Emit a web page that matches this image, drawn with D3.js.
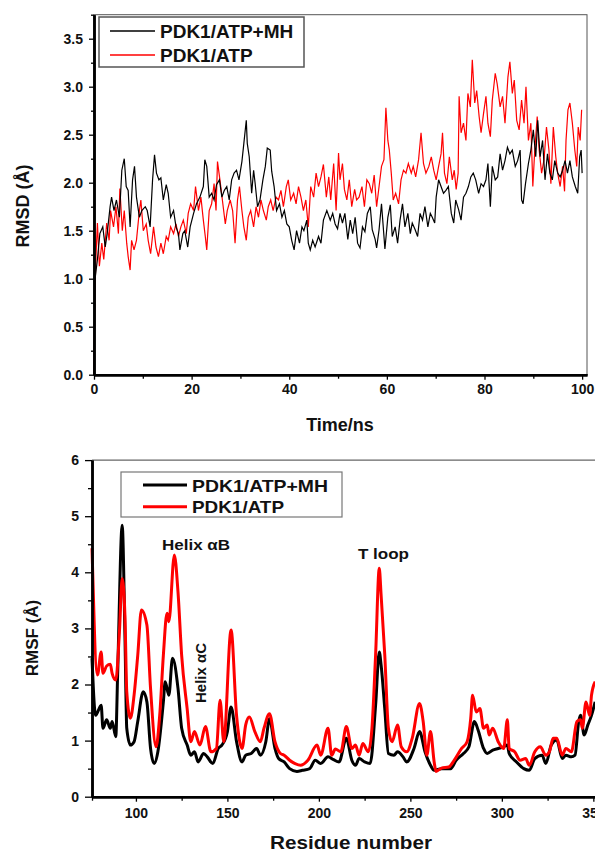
<!DOCTYPE html>
<html>
<head>
<meta charset="utf-8">
<script src="https://cdn.jsdelivr.net/npm/d3@7/dist/d3.min.js"></script>
<style>
  body { margin: 0; background: #fff; }
  text { font-family: Arial, "Liberation Sans", sans-serif; font-weight: bold; fill: #111; }
</style>
</head>
<body>
<svg id="chart" width="595" height="852"></svg>
<script>
// ---------- RMSD (top panel) ----------
const rmsdTimeMH = [0,0.2,0.7,1.2,1.8,2.3,2.7,3.3,3.6,4.1, 4.6,5.2,5.7,6.2,6.6,7.0,7.4,7.9,8.3,8.7,
  9.3,9.8,10.5,10.9,11.5,12.0,12.4,12.8,13.3,13.7, 14.2,14.8,15.2,15.7,16.3,16.8,17.3,17.6,18.2,18.6,
  19.2,19.7,20.4,21.0,21.7,22.4,22.7,23.1,23.6,24.1, 24.6,25.1,25.7,26.2,26.7,27.2,27.7,28.2,28.7,29.2,
  29.7,30.3,30.7,31.2,31.4,31.8,32.3,32.7,33.0,33.5, 34.0,34.6,35.1,35.5,36.1,36.4,36.9,37.4,38.0,38.5,
  39.0,39.5,40.0,40.5,41.0,41.5,42.1,42.6,43.0,43.6, 43.9,44.3,44.8,45.3,46.0,46.5,47.0,47.7,48.4,48.9,
  49.4,49.9,50.4,50.9,51.4,52.0,52.5,53.0,53.5,54.0, 54.5,55.0,55.5,56.0,56.6,57.0,57.6,57.9,58.4,58.9,
  59.6,60.2,60.7,61.1,61.7,62.2,62.7,63.2,63.7,64.3, 64.8,65.2,65.8,66.3,66.8,67.3,67.8,68.4,68.9,69.3,
  69.8,70.1,70.6,71.1,71.6,72.1,72.6,73.2,73.7,74.1, 74.7,75.2,75.7,76.2,76.7,77.2,77.7,78.2,78.8,79.3,
  79.8,80.3,80.7,81.2,81.6,82.2,82.7,83.2,83.7,84.2, 84.7,85.2,85.7,86.3,86.8,87.3,87.6,87.9,88.4,89.0,
  89.5,90.0,90.5,90.9,91.4,91.9,92.4,92.9,93.4,93.9, 94.4,95.0,95.5,96.0,96.5,97.0,97.5,98.0,98.6,99.1,
  99.5,99.8,100.0]
const rmsdMH = [0,0.99,1.2,1.47,1.54,1.33,1.47,1.75,1.85,1.71, 1.82,1.64,2.13,2.25,1.96,1.92,1.54,2.03,2.17,1.85,
  1.64,1.71,1.75,1.71,1.54,2.03,2.29,2.1,2.03,2.05, 1.82,1.98,1.89,1.64,1.71,1.54,1.47,1.3,1.47,1.5,
  1.33,1.54,1.68,1.78,1.85,1.96,2.24,2.17,1.85,1.89, 1.82,1.98,2.03,1.85,1.92,1.96,1.82,2.03,2.1,2.13,
  2.03,2.22,2.41,2.65,2.41,2.27,1.89,2.13,2.0,1.75, 1.82,2.03,2.17,2.36,2.34,2.12,1.96,1.71,1.78,1.64,
  1.71,1.57,1.54,1.4,1.3,1.5,1.37,1.54,1.5,1.61, 1.37,1.3,1.4,1.33,1.44,1.37,1.61,1.71,1.61,1.68,
  1.57,1.52,1.68,1.58,1.68,1.41,1.61,1.47,1.64,1.37, 1.32,1.54,1.49,1.68,1.75,1.51,1.41,1.32,1.51,1.78,
  1.31,1.64,1.77,1.44,1.54,1.37,1.61,1.78,1.54,1.68, 1.47,1.58,1.51,1.44,1.68,1.61,1.75,1.54,1.68,1.64,
  1.58,1.85,2.03,1.96,1.89,1.92,1.96,1.68,1.58,1.82, 1.72,1.61,1.85,1.89,1.96,2.06,2.1,2.03,1.89,1.99,
  1.96,2.03,2.2,1.75,2.17,2.03,2.06,2.3,2.13,2.23, 2.37,2.3,2.34,2.17,2.23,2.34,1.82,1.78,1.99,2.2,
  2.34,2.55,2.27,2.65,2.27,2.44,2.03,2.3,2.1,2.03, 2.23,2.1,2.06,2.13,2.23,2.1,2.23,2.06,1.96,1.89,
  2.27,2.34,2.1]

const rmsdTimeATP = [0,0.15,0.4,0.7,1.1,1.6,2.0,2.6,3.1,3.4, 4.0,4.5,5.0,5.3,5.8,6.2,6.7,7.0,7.4,7.7,
  8.2,8.7,9.3,9.6,10.1,10.7,11.1,11.6,12.2,12.7, 13.2,13.7,14.2,14.8,15.2,15.7,16.3,16.8,17.3,17.8,
  18.3,18.9,19.3,19.8,20.4,20.8,21.4,21.9,22.4,22.8, 23.1,23.6,24.1,24.6,25.0,25.3,25.8,26.3,26.9,27.3,
  27.9,28.4,28.9,29.4,29.8,30.3,30.7,31.2,31.6,32.1, 32.7,33.2,33.7,34.2,34.7,35.3,35.7,36.2,36.7,37.3,
  37.8,38.3,38.8,39.4,39.8,40.3,40.9,41.4,41.9,42.4, 42.9,43.4,43.9,44.4,45.0,45.5,46.0,46.5,47.0,47.6,
  48.1,48.5,49.1,49.6,50.1,50.4,50.9,51.3,51.8,52.3, 52.8,53.4,53.8,54.3,54.9,55.4,55.9,56.4,56.9,57.4,
  57.9,58.4,58.9,59.4,59.8,60.2,60.5,60.9,61.3,61.8, 62.4,62.9,63.4,63.9,64.4,65.0,65.4,65.9,66.5,67.0,
  67.5,68.0,68.6,69.1,69.6,70.1,70.6,71.1,71.4,71.8, 72.3,72.8,73.4,73.8,74.2,74.6,74.8,75.2,75.7,76.2,
  76.6,77.1,77.5,78.0,78.4,78.9,79.3,79.8,80.3,80.7, 81.2,81.6,82.2,82.6,83.2,83.7,84.2,84.8,85.2,85.7,
  86.1,86.6,87.1,87.6,88.1,88.5,89.0,89.5,89.9,90.3, 90.8,91.2,91.7,92.2,92.7,93.2,93.6,94.1,94.6,95.0,
  95.5,96.0,96.4,96.7,97.1,97.5,98.0,98.5,98.9,99.2, 99.6,99.9]
const rmsdATP = [0,0.8,1.23,1.58,1.13,1.37,1.2,1.58,1.4,1.71, 1.54,1.75,1.47,1.94,1.5,1.71,1.37,1.23,1.09,1.4,
  1.3,1.4,1.71,1.82,1.5,1.57,1.4,1.26,1.54,1.33, 1.23,1.37,1.26,1.44,1.4,1.54,1.47,1.57,1.44,1.54,
  1.61,1.47,1.68,1.78,1.71,1.96,1.71,1.85,1.61,1.44, 1.3,1.71,1.78,1.99,1.71,2.22,2.03,1.82,1.57,1.71,
  1.82,1.71,1.37,1.82,1.96,1.71,1.54,1.4,1.64,1.71, 1.54,1.75,1.64,1.82,1.71,1.61,1.75,1.82,1.71,1.85,
  1.82,1.92,1.75,1.96,2.03,1.82,1.89,1.78,1.96,1.85, 1.71,1.82,1.54,1.96,1.85,2.1,1.96,2.06,2.19,1.85,
  2.06,1.82,2.2,1.71,2.31,2.03,2.2,1.93,1.82,2.03, 1.75,1.93,1.82,1.85,1.96,1.75,2.03,1.99,1.89,2.08,
  1.75,1.96,2.17,2.24,2.78,2.44,2.34,2.1,1.82,1.89, 1.78,2.03,2.13,2.1,2.2,2.1,2.17,2.06,2.24,2.52,
  2.2,2.1,2.17,2.27,2.13,2.03,2.17,2.3,2.52,2.1, 1.99,2.27,2.03,2.13,1.93,2.1,2.9,2.52,2.62,2.44,
  2.93,2.79,3.28,2.83,2.96,2.69,2.52,2.72,2.9,2.62, 2.48,2.86,3.14,3.03,2.79,2.9,2.62,3.1,3.26,2.93,
  3.07,2.65,2.55,2.86,2.62,3.0,2.44,2.62,1.96,2.34, 2.69,2.34,2.1,2.24,2.58,2.34,1.99,2.58,2.27,2.1,
  1.96,2.17,1.91,2.44,2.76,2.83,2.62,2.34,2.17,2.58, 2.44,2.76]

// ---------- RMSF (bottom panel) ----------
const rmsfResMH = [76,78,81,82,84,86,87,89,90,92.5, 94,95,97,99,101,104,106,108,110,112,
  115,116,118,120,123,125,128,130,132,134, 137,139,142,145,147,150,152,155,158,160,
  163,166,168,171,173,176,178,181,184,188, 191,195,198,201,205,208,211,215,218,220,
  222,225,228,231,233,234,236,238,241,243, 246,248,252,255,258,261,263,267,272,275,
  279,282,285,287,290,292,295,298,301,303, 304,308,312,315,318,322,324,327,330,333,
  335,338,340,342,343,345,347,349,351]
const rmsfMH = [2.47,1.45,1.63,1.22,1.37,1.22,1.34,1.07,2.17,4.84, 2.88,1.22,0.92,0.98,1.34,1.87,1.69,0.86,0.59,0.8,
  1.69,2.05,1.81,2.47,1.93,1.22,0.92,0.74,0.8,0.62, 0.77,0.71,0.59,0.86,0.92,1.16,1.6,0.98,0.62,0.74,
  0.77,0.86,0.74,0.98,1.39,0.86,0.68,0.62,0.5,0.45, 0.47,0.5,0.65,0.59,0.71,0.66,0.62,1.04,0.65,0.56,
  0.68,0.62,0.59,1.63,2.58,2.35,1.57,0.77,0.74,0.8, 0.71,0.62,0.86,1.16,0.8,0.56,0.47,0.5,0.5,0.65,
  0.77,0.89,1.34,1.19,0.86,0.77,0.83,0.86,0.89,0.92, 0.77,0.62,0.5,0.47,0.68,0.74,0.59,0.92,1.01,0.68,
  0.74,0.71,0.74,1.34,1.45,1.1,1.28,1.45,1.69]

const rmsfResATP = [76,79,81,82,84,86,87,89,91,92.5, 94,95,97,99,101,103,106,108,111,113,
  115,117,118,121,123,125,128,130,132,135, 138,141,144,146,148,152,155,158,160,162,
  165,168,170,173,176,179,181,184,187,190, 194,199,201,205,207,209,212,215,218,220,
  222,224,227,229,231,233,234,236,238,240, 243,245,248,251,255,257,259,261,263,264,
  267,271,274,278,281,283,284,286,288,290, 292,293,295,298,301,303,304,307,310,313,
  315,318,321,324,326,328,330,333,335,338, 341,343,344,346,348,349,351]
const rmsfATP = [4.43,2.17,2.58,2.2,2.33,2.36,2.2,2.08,2.94,3.89, 3.23,1.87,1.4,1.81,2.52,3.33,3.06,1.93,0.89,1.45,
  2.52,3.27,3.12,4.31,3.65,2.52,1.57,0.98,1.16,0.92, 1.25,0.8,0.86,1.72,0.98,2.97,1.45,0.86,1.28,1.42,
  1.16,0.98,1.22,1.48,0.98,0.77,0.74,0.65,0.59,0.56, 0.65,0.92,0.74,1.22,0.74,0.85,0.8,1.25,0.86,0.92,
  0.74,0.95,0.8,1.22,2.53,4.07,3.6,2.53,1.22,0.98, 1.28,0.89,0.8,1.04,1.66,1.34,0.74,1.16,0.62,0.45,
  0.51,0.53,0.65,0.86,0.98,1.4,1.81,1.51,1.57,1.22, 1.28,1.1,1.22,0.98,0.86,1.37,0.86,0.8,0.65,0.68,
  0.56,0.8,0.89,0.74,0.8,1.04,1.04,0.74,0.86,0.8, 1.34,1.37,1.22,1.69,1.45,1.81,2.05]

const seriesNames = ["PDK1/ATP+MH", "PDK1/ATP"]
const seriesColors = ["#000000", "#ff0000"]

const svg = d3.select("#chart")

// ================= top chart : RMSD =================
const x1 = d3.scaleLinear().domain([0, 101]).range([94, 587])
const y1 = d3.scaleLinear().domain([0, 3.75]).range([374.7, 14.7])

// thin frame
svg.append("rect")
    .attr("x", x1(0)).attr("y", y1(3.75))
    .attr("width", x1(101) - x1(0)).attr("height", y1(0) - y1(3.75))
    .attr("fill", "none").attr("stroke", "#555").attr("stroke-width", 1)

const line1 = d3.line().x(d => x1(d[0])).y(d => y1(d[1]))

svg.append("path")
    .datum(d3.zip(rmsdTimeATP, rmsdATP))
    .attr("d", line1)
    .attr("fill", "none").attr("stroke", seriesColors[1]).attr("stroke-width", 1.2)

svg.append("path")
    .datum(d3.zip(rmsdTimeMH, rmsdMH))
    .attr("d", line1)
    .attr("fill", "none").attr("stroke", seriesColors[0]).attr("stroke-width", 1.2)

// axes (major + minor ticks)
svg.append("g").attr("transform", `translate(0,${y1(0)})`)
    .call(d3.axisBottom(x1).tickValues([0,20,40,60,80,100]).tickSize(5).tickSizeOuter(0).tickPadding(4))
svg.append("g").attr("transform", `translate(0,${y1(0)})`)
    .call(d3.axisBottom(x1).tickValues([10,30,50,70,90]).tickSize(4).tickSizeOuter(0).tickFormat(""))

svg.append("g").attr("transform", `translate(${x1(0)},0)`)
    .call(d3.axisLeft(y1).tickValues(d3.range(0, 3.6, 0.5)).tickSize(5).tickSizeOuter(0)
        .tickPadding(6).tickFormat(d3.format(".1f")))
svg.append("g").attr("transform", `translate(${x1(0)},0)`)
    .call(d3.axisLeft(y1).tickValues(d3.range(0.25, 3.8, 0.5)).tickSize(3).tickSizeOuter(0).tickFormat(""))

svg.append("text")
    .attr("x", 340).attr("y", 431)
    .attr("text-anchor", "middle").style("font-size", "18px")
    .text("Time/ns")

svg.append("text")
    .attr("transform", "translate(28.5,206) rotate(-90)")
    .attr("text-anchor", "middle").style("font-size", "18px")
    .text("RMSD (Å)")

// legend
const leg1 = svg.append("g")
leg1.append("rect").attr("x", 99).attr("y", 17).attr("width", 205).attr("height", 50)
    .attr("fill", "#fff").attr("stroke", "#555").attr("stroke-width", 1.5)
seriesNames.forEach((name, i) => {
    const yy = 31 + i * 24
    leg1.append("line").attr("x1", 110).attr("x2", 155).attr("y1", yy).attr("y2", yy)
        .attr("stroke", seriesColors[i]).attr("stroke-width", 1.3)
    leg1.append("text").attr("x", 160).attr("y", yy + 7.3)
        .style("font-size", "19px").text(name)
})

// ================= bottom chart : RMSF =================
const x2 = d3.scaleLinear().domain([76, 352]).range([92, 597])
const y2 = d3.scaleLinear().domain([0, 6]).range([796.7, 460.1])

svg.append("line")
    .attr("x1", x2(76)).attr("x2", 595).attr("y1", y2(6)).attr("y2", y2(6))
    .attr("stroke", "#666").attr("stroke-width", 1.2)

const line2 = d3.line().x(d => x2(d[0])).y(d => y2(d[1])).curve(d3.curveMonotoneX)

svg.append("path")
    .datum(d3.zip(rmsfResMH, rmsfMH))
    .attr("d", line2)
    .attr("fill", "none").attr("stroke", seriesColors[0]).attr("stroke-width", 3)

svg.append("path")
    .datum(d3.zip(rmsfResATP, rmsfATP))
    .attr("d", line2)
    .attr("fill", "none").attr("stroke", seriesColors[1]).attr("stroke-width", 3)

svg.append("g").attr("transform", `translate(0,${y2(0)})`)
    .call(d3.axisBottom(x2).tickValues([100,150,200,250,300,350]).tickSize(5).tickSizeOuter(0).tickPadding(6))
svg.append("g").attr("transform", `translate(0,${y2(0)})`)
    .call(d3.axisBottom(x2).tickValues([76,125,175,225,275,325]).tickSize(4).tickSizeOuter(0).tickFormat(""))

svg.append("g").attr("transform", `translate(${x2(76)},0)`)
    .call(d3.axisLeft(y2).tickValues(d3.range(0, 7, 1)).tickSize(7).tickSizeOuter(0)
        .tickPadding(6).tickFormat(d3.format("d")))
svg.append("g").attr("transform", `translate(${x2(76)},0)`)
    .call(d3.axisLeft(y2).tickValues(d3.range(0.5, 6, 1)).tickSize(4).tickSizeOuter(0).tickFormat(""))

svg.append("text")
    .attr("x", 351).attr("y", 849)
    .attr("text-anchor", "middle").style("font-size", "18px")
    .attr("textLength", 162).attr("lengthAdjust", "spacingAndGlyphs")
    .text("Residue number")

svg.append("text")
    .attr("transform", "translate(38,638) rotate(-90)")
    .attr("text-anchor", "middle").style("font-size", "17px")
    .text("RMSF (Å)")

// annotations
svg.append("text").attr("x", 162).attr("y", 550).style("font-size", "15px")
    .attr("textLength", 68).attr("lengthAdjust", "spacingAndGlyphs").text("Helix αB")
svg.append("text").attr("x", 358).attr("y", 559).style("font-size", "15px")
    .attr("textLength", 51).attr("lengthAdjust", "spacingAndGlyphs").text("T loop")
svg.append("text")
    .attr("transform", "translate(206,673) rotate(-90)")
    .attr("text-anchor", "middle").style("font-size", "15px")
    .text("Helix αC")

// legend
const leg2 = svg.append("g")
leg2.append("rect").attr("x", 121).attr("y", 472).attr("width", 221).attr("height", 45)
    .attr("fill", "#fff").attr("stroke", "#777").attr("stroke-width", 1.2)
seriesNames.forEach((name, i) => {
    const yy = 485 + i * 21.7
    leg2.append("line").attr("x1", 143).attr("x2", 187).attr("y1", yy).attr("y2", yy)
        .attr("stroke", seriesColors[i]).attr("stroke-width", 3)
    leg2.append("text").attr("x", 192).attr("y", yy + 6.7)
        .style("font-size", "17px")
        .attr("textLength", i === 0 ? 136 : 92).attr("lengthAdjust", "spacingAndGlyphs")
        .text(name)
})

// axis styling
svg.selectAll(".domain").attr("stroke", "#000").attr("stroke-width", 2.5)
svg.selectAll(".tick line").attr("stroke", "#000").attr("stroke-width", 1.3)
svg.selectAll(".tick text").style("font-size", "14px").style("font-weight", "bold")
    .style("font-family", "Arial, 'Liberation Sans', sans-serif").attr("fill", "#111")
</script>
</body>
</html>
